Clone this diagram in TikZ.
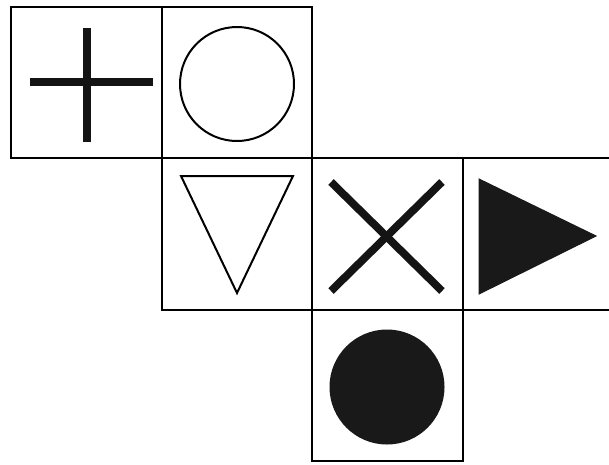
\documentclass[tikz,border=0pt]{standalone}
\begin{document}
\begin{tikzpicture}[x=1pt,y=-1pt,
  cell/.style={line width=1.8pt,line join=miter},
  bar/.style={line width=7.8pt,draw=black!92},
  outline/.style={line width=2pt,line join=miter},
  solid fill/.style={fill=black!90,draw=black!90,line width=1pt}]
\useasboundingbox[fill=white] (0,0) rectangle (609,464);
% cells
\draw[cell] (11,7) rectangle (162,158);
\draw[cell] (162,7) rectangle (312,158);
\draw[cell] (162,158) rectangle (312,310);
\draw[cell] (312,158) rectangle (463,310);
\draw[cell] (312,310) rectangle (463,461);
\draw[cell] (463,158) -- (609,158);
\draw[cell] (463,310) -- (609,310);
% plus
\draw[bar] (87,28) -- (87,142);
\draw[bar] (30,82) -- (153,82);
% circle
\draw[outline] (237,84) circle[radius=57];
% down triangle
\draw[outline] (181,176) -- (293,176) -- (237,293) -- cycle;
% X
\draw[bar] (331,182) -- (442,291);
\draw[bar] (442,182) -- (331,291);
% right triangle
\draw[solid fill] (479,179) -- (596,236) -- (479,294) -- cycle;
% filled circle
\fill[black!90] (387,387) circle[radius=57.5];
\end{tikzpicture}
\end{document}
